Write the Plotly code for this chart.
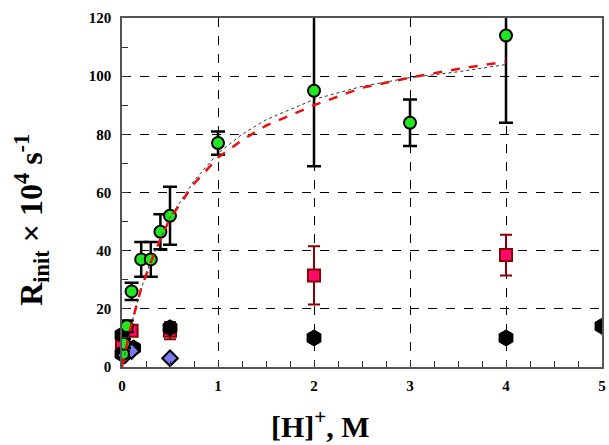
import plotly.graph_objects as go

# ---- data ----
green_x = [0.01, 0.02, 0.05, 0.1, 0.2, 0.3, 0.4, 0.5, 1, 2, 3, 4]
green_y = [4.5, 8, 14, 26, 37, 37, 46.5, 52, 77, 95, 84, 114]
green_err = [1, 1.5, 2, 3, 6, 6, 6, 10, 4, 26, 8, 30]

pink_x = [0.0, 0.1, 0.5, 2, 4]
pink_y = [8.5, 12.5, 12.5, 31.5, 38.5]
pink_err = [1.5, 1.5, 3, 10, 7]

black_near_x = [0.0, 0.0, 0.12, 0.5]
black_near_y = [11, 4.5, 6.5, 13.5]
black_far_x = [2, 4, 5]
black_far_y = [10, 10, 14]

blue_x = [0.03, 0.1, 0.5]
blue_y = [4, 5.5, 3]

fit_x = [0, 0.05, 0.1, 0.2, 0.3, 0.4, 0.5, 0.75, 1, 1.25, 1.5, 2, 2.5, 3, 3.5, 4]
fit_y = [0, 8, 15, 27, 36, 44, 51, 63, 72, 78, 83, 90, 96, 99.5, 102.5, 105]

dot_x = [0, 0.1, 0.2, 0.3, 0.5, 0.75, 1, 1.25, 1.5, 2, 2.5, 3, 3.5, 4]
dot_y = [0, 15, 27, 36.5, 51.5, 64, 73.5, 80, 85, 92, 96.5, 99.5, 101.5, 104]

x_ticks = [0, 1, 2, 3, 4, 5]
y_ticks = [0, 20, 40, 60, 80, 100, 120]

FONT = "Liberation Serif"

fig = go.Figure()

fig.add_trace(go.Scatter(
    x=pink_x, y=pink_y, mode="markers", cliponaxis=False,
    error_y=dict(type="data", array=pink_err, color="#8b0000",
                 thickness=2, width=6),
    marker=dict(symbol="square", size=12, color="#ff0a6c",
                line=dict(color="#8b0000", width=2)),
    showlegend=False))
fig.add_trace(go.Scatter(
    x=black_near_x, y=black_near_y, mode="markers", cliponaxis=False,
    marker=dict(symbol="hexagon", size=16, color="black",
                line=dict(color="black", width=1)),
    showlegend=False))
fig.add_trace(go.Scatter(
    x=black_far_x, y=black_far_y, mode="markers",
    marker=dict(symbol="hexagon", size=16, color="black",
                line=dict(color="black", width=1)),
    showlegend=False))
fig.add_trace(go.Scatter(
    x=blue_x, y=blue_y, mode="markers", cliponaxis=False,
    marker=dict(symbol="diamond", size=12, color="#7b7bf0",
                line=dict(color="black", width=2)),
    showlegend=False))
fig.add_trace(go.Scatter(
    x=green_x, y=green_y, mode="markers",
    error_y=dict(type="data", array=green_err, color="black",
                 thickness=2.5, width=7),
    marker=dict(symbol="circle", size=12, color="#22e622",
                line=dict(color="black", width=2)),
    showlegend=False))
fig.add_trace(go.Scatter(
    x=dot_x, y=dot_y, mode="lines",
    line=dict(color="#333333", width=1, dash="dot"),
    showlegend=False))
fig.add_trace(go.Scatter(
    x=fit_x, y=fit_y, mode="lines",
    line=dict(color="#e8120c", width=2.5, dash="dash"),
    showlegend=False))

axis_common = dict(
    showline=True, mirror=True, linecolor="#555555", linewidth=1.5,
    showgrid=True, gridcolor="black", gridwidth=1, griddash="dash",
    zeroline=False, ticks="inside", ticklen=6, tickcolor="#333333",
    tickfont=dict(family=FONT, size=15, color="black", weight="bold"),
)

fig.update_xaxes(range=[0, 5], tickvals=x_ticks, ticktext=[str(v) for v in x_ticks],
                 minor=dict(dtick=0.25, ticks="inside", ticklen=6, tickcolor="#333333",
                            showgrid=False),
                 ticklabelstandoff=4, **axis_common)
fig.update_yaxes(range=[0, 120], tickvals=y_ticks, ticktext=[str(v) for v in y_ticks],
                 minor=dict(dtick=10, ticks="inside", ticklen=6, tickcolor="#333333",
                            showgrid=False),
                 ticklabelstandoff=6, **axis_common)

fig.add_annotation(
    text="<b>[H]<sup>+</sup>, M</b>", xref="paper", yref="paper",
    x=(322 - 122) / 484, y=-(424 - 367) / 349, xanchor="center", yanchor="middle",
    showarrow=False, font=dict(family=FONT, size=30, color="black"))
fig.add_annotation(
    text="<b>R<sub>init</sub> × 10<sup>4</sup> s<sup>-1</sup></b>", xref="paper", yref="paper",
    x=-(122 - 31) / 484, y=(367 - 220) / 349, xanchor="center", yanchor="middle",
    textangle=-90, showarrow=False, font=dict(family=FONT, size=32, color="black"))

fig.update_layout(
    width=609, height=445,
    margin=dict(l=122, r=3, t=18, b=78),
    paper_bgcolor="white", plot_bgcolor="white",
)

fig.write_html("out.html")
